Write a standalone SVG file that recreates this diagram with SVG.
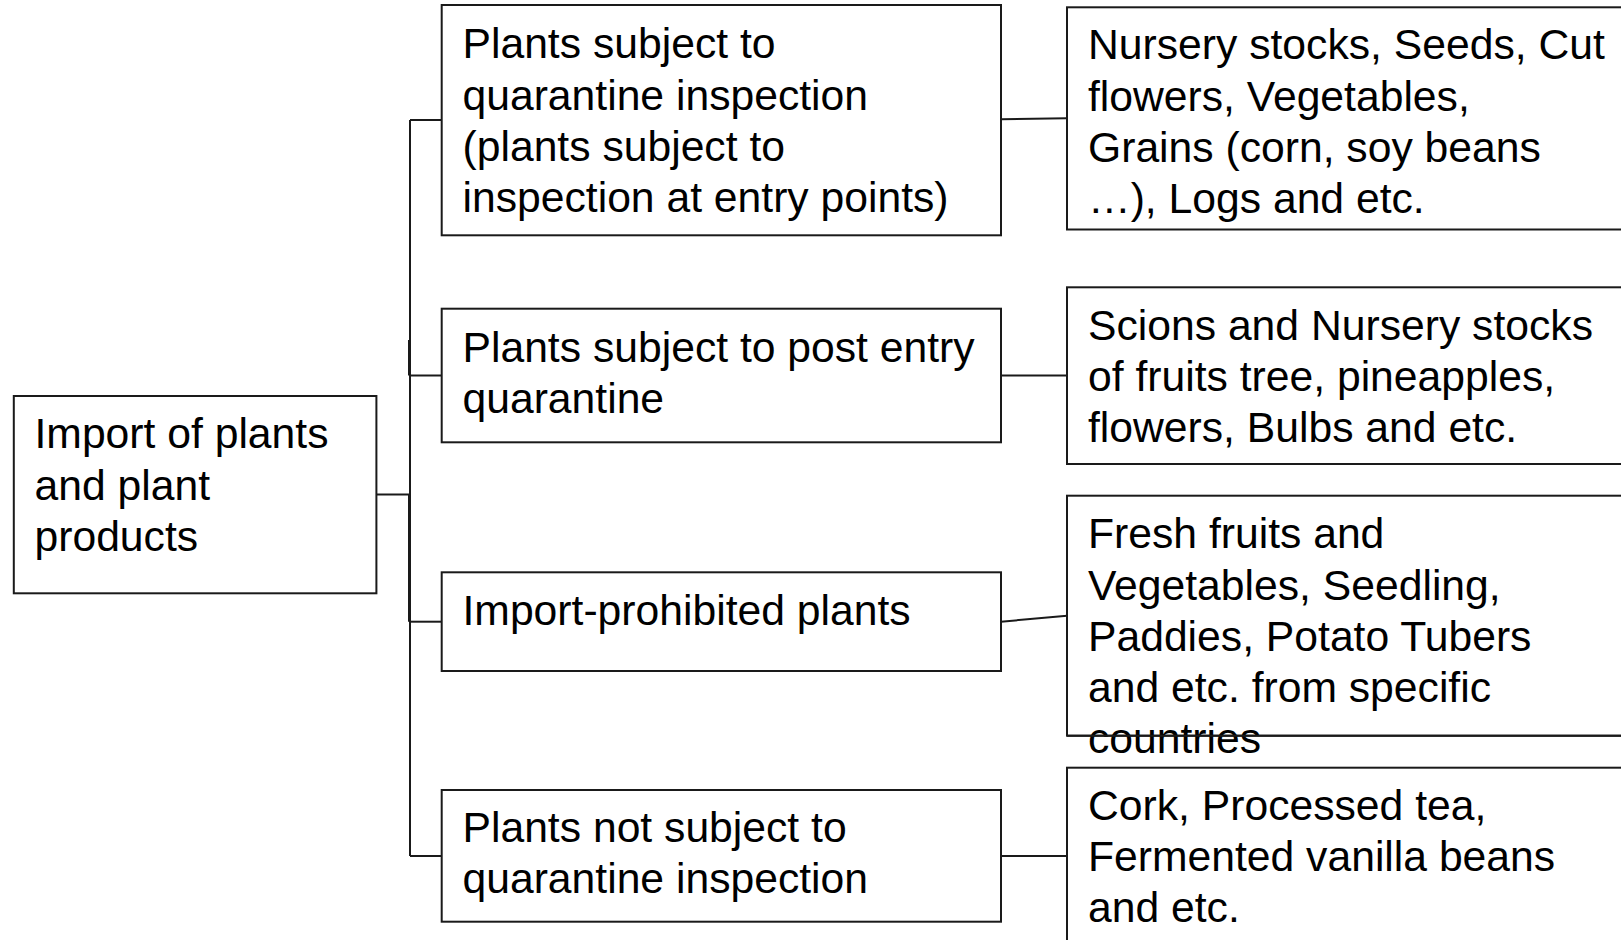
<svg xmlns="http://www.w3.org/2000/svg" width="1621" height="940" viewBox="0 0 1621 940">
<style>
.box{fill:#ffffff;stroke:#1a1a1a;stroke-width:2}
.ln{fill:none;stroke:#1a1a1a;stroke-width:2}
.t{font-family:"Liberation Sans",Arial,sans-serif;font-size:42.67px;fill:#000000}
</style>
<rect x="0" y="0" width="1621" height="940" fill="#ffffff"/>
<g id="connectors">
<path class="ln" d="M376.4,494.5 H410"/>
<path class="ln" d="M410,120 V856"/>
<path class="ln" d="M409,340 V375.5 M409,494.5 V621.7"/>
<path class="ln" d="M410,120 H441.7"/>
<path class="ln" d="M410,375.5 H441.7"/>
<path class="ln" d="M410,621.7 H441.7"/>
<path class="ln" d="M410,856 H441.7"/>
<path class="ln" d="M1001,119.3 L1067,118.3"/>
<path class="ln" d="M1001,375.5 H1067"/>
<path class="ln" d="M1001,621.7 L1067,615.7"/>
<path class="ln" d="M1001,856 H1067"/>
</g>
<g id="root">
<rect class="box" x="13.8" y="396" width="362.6" height="197.3"/>
<text class="t" x="34.5" y="448.3">Import of plants</text>
<text class="t" x="34.5" y="499.5">and plant</text>
<text class="t" x="34.5" y="550.7">products</text>
</g>
<g id="node-a">
<rect class="box" x="441.7" y="5" width="559.3" height="230.3"/>
<text class="t" x="462.5" y="58.3">Plants subject to</text>
<text class="t" x="462.5" y="109.5">quarantine inspection</text>
<text class="t" x="462.5" y="160.7">(plants subject to</text>
<text class="t" x="462.5" y="211.9">inspection at entry points)</text>
</g>
<g id="node-b">
<rect class="box" x="441.7" y="308.7" width="559.3" height="133.6"/>
<text class="t" x="462.5" y="361.7">Plants subject to post entry</text>
<text class="t" x="462.5" y="412.9">quarantine</text>
</g>
<g id="node-c">
<rect class="box" x="441.7" y="572.3" width="559.3" height="98.7"/>
<text class="t" x="462.5" y="625">Import-prohibited plants</text>
</g>
<g id="node-d">
<rect class="box" x="441.7" y="790" width="559.3" height="131.7"/>
<text class="t" x="462.5" y="841.7">Plants not subject to</text>
<text class="t" x="462.5" y="892.9">quarantine inspection</text>
</g>
<g id="node-r1">
<rect class="box" x="1067" y="7.3" width="570" height="222.2"/>
<text class="t" x="1088" y="59.3">Nursery stocks, Seeds, Cut</text>
<text class="t" x="1088" y="110.5">flowers, Vegetables,</text>
<text class="t" x="1088" y="161.7">Grains (corn, soy beans</text>
<text class="t" x="1088" y="212.9">…), Logs and etc.</text>
</g>
<g id="node-r2">
<rect class="box" x="1067" y="287.3" width="570" height="176.7"/>
<text class="t" x="1088" y="340">Scions and Nursery stocks</text>
<text class="t" x="1088" y="391.2">of fruits tree, pineapples,</text>
<text class="t" x="1088" y="442.4">flowers, Bulbs and etc.</text>
</g>
<g id="node-r3">
<rect class="box" x="1067" y="495.7" width="570" height="240"/>
<text class="t" x="1088" y="548.3">Fresh fruits and</text>
<text class="t" x="1088" y="599.5">Vegetables, Seedling,</text>
<text class="t" x="1088" y="650.7">Paddies, Potato Tubers</text>
<text class="t" x="1088" y="701.9">and etc. from specific</text>
<text class="t" x="1088" y="753.1">countries</text>
<path class="ln" d="M1067,735.7 H1625"/>
</g>
<g id="node-r4">
<rect class="box" x="1067" y="767.7" width="570" height="200"/>
<text class="t" x="1088" y="820">Cork, Processed tea,</text>
<text class="t" x="1088" y="871.2">Fermented vanilla beans</text>
<text class="t" x="1088" y="922.4">and etc.</text>
</g>
</svg>
